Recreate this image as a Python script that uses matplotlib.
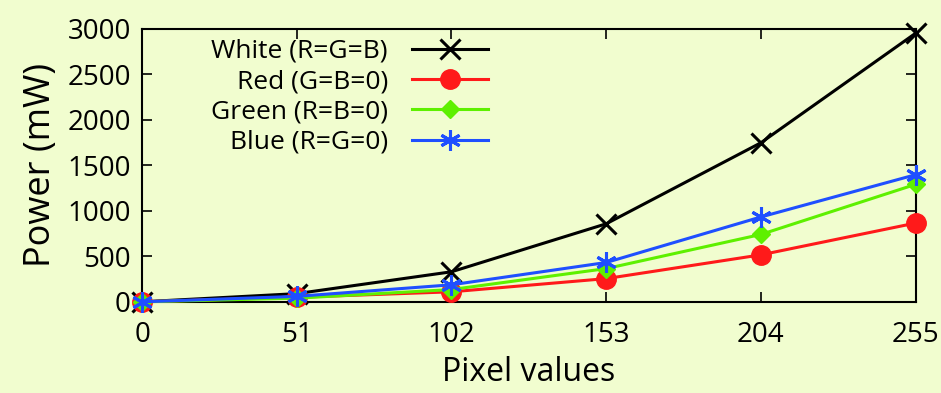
# Power draw vs pixel value for white / red / green / blue screens
import matplotlib
matplotlib.use("Agg")
import matplotlib.pyplot as plt

pixel = [0, 51, 102, 153, 204, 255]
white = [0, 90, 330, 857, 1747, 2950]
red = [0, 50, 110, 255, 516, 865]
green = [0, 40, 135, 365, 740, 1290]
blue = [0, 60, 187, 432, 932, 1396]

labels = ["White (R=G=B)", "Red (G=B=0)", "Green (R=B=0)", "Blue (R=G=0)"]
yticks = [0, 500, 1000, 1500, 2000, 2500, 3000]

bg = "#f1fdcf"
plt.rcParams['font.family'] = ['Open Sans', 'DejaVu Sans']

fig = plt.figure(figsize=(9.41, 3.93), dpi=100, facecolor=bg)
ax = fig.add_axes([0.151, 0.232, 0.822, 0.695])
ax.set_facecolor(bg)

ax.plot(pixel, white, color="black", marker="x", markersize=14, mew=2.2, lw=2.2, label=labels[0], clip_on=False, zorder=3)
ax.plot(pixel, red, color="#ff1a1a", marker="o", markersize=14, lw=2.2, label=labels[1], clip_on=False, zorder=3)
ax.plot(pixel, green, color="#5ef000", marker="D", markersize=9, lw=2.2, label=labels[2], clip_on=False, zorder=3)
ax.plot(pixel, blue, color="#1f4fff", marker=(6, 2, 0), markersize=15, mew=2.2, lw=2.2, label=labels[3], clip_on=False, zorder=3)

ax.set_xlim(0, 255)
ax.set_ylim(0, 3000)
ax.set_xticks(pixel)
ax.set_yticks(yticks)
ax.tick_params(direction="in", length=7, width=1.2, labelsize=20, top=True, right=True)
ax.tick_params(axis="x", pad=14)
ax.tick_params(axis="y", pad=8)
for s in ax.spines.values():
    s.set_linewidth(1.5)

ax.set_xlabel("Pixel values", fontsize=23, labelpad=5)
ax.set_ylabel("Power (mW)", fontsize=26, labelpad=6)

ax.legend(loc="upper left", bbox_to_anchor=(0.065, 1.03), frameon=False, markerfirst=False,
          handlelength=2.9, labelspacing=0.2, borderpad=0.2, handletextpad=0.9,
          prop={'size': 19})

fig.savefig("out.png", dpi=100, facecolor=bg)
